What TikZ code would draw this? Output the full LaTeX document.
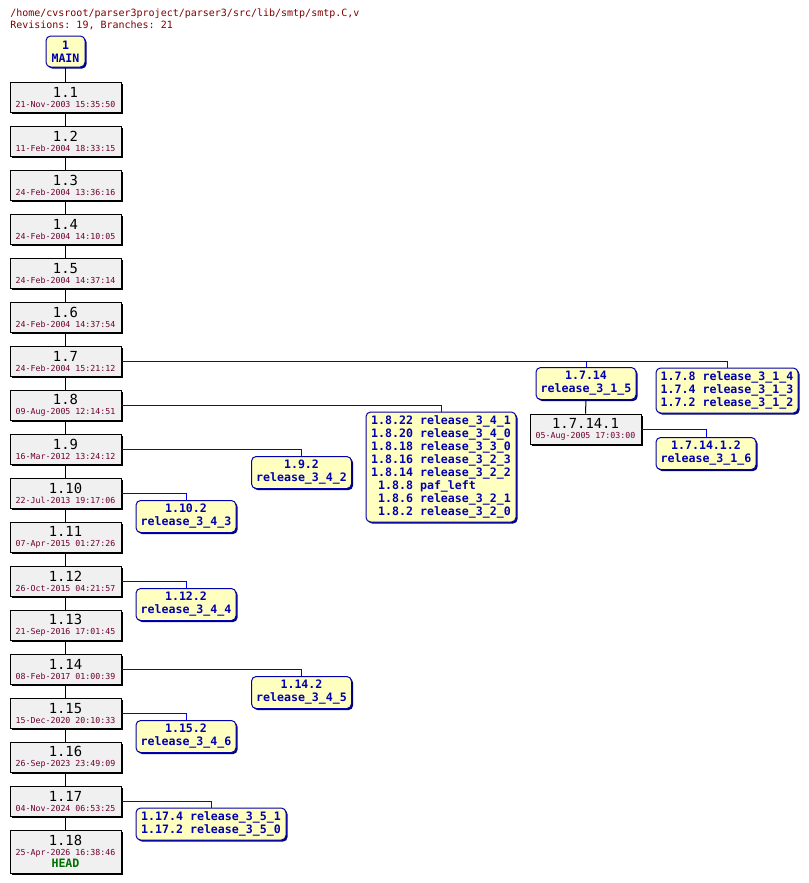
\documentclass[tikz,border=0pt]{standalone}
\usepackage{fontspec}
\setmonofont{DejaVu Sans Mono}
\usepackage{tikz}
\usetikzlibrary{shadows}

\definecolor{revfill}{HTML}{F0F0F0}
\definecolor{tagfill}{HTML}{FFFFC0}
\definecolor{tagblue}{HTML}{0000B0}
\definecolor{linkblue}{HTML}{0000FF}
\definecolor{datered}{HTML}{700030}
\definecolor{titlered}{HTML}{800000}
\definecolor{headgreen}{HTML}{007000}

\newcommand{\revnum}{\fontsize{10.4}{10.4}\selectfont}
\newcommand{\revdate}{\fontsize{6.2}{7.5}\selectfont\color{datered}}
\newcommand{\headtag}{\fontsize{8.7}{9.75}\selectfont\bfseries\color{headgreen}}

\begin{document}
\begin{tikzpicture}[x=0.75pt,y=0.75pt,yscale=-1,xscale=1,
    rev/.style={draw=black, fill=revfill, line width=0.75pt, minimum width=83.25pt, minimum height=22.5pt,
        inner sep=0pt, align=center, font=\ttfamily\fontsize{6.2}{7.5}\selectfont,
        drop shadow={shadow xshift=1.2pt, shadow yshift=-1.2pt, opacity=1, fill=black}},
    tag/.style={draw=tagblue, fill=tagfill, line width=0.75pt, rounded corners=3.5pt, minimum width=75pt, minimum height=24pt,
        inner sep=0pt, align=center, text=tagblue, font=\ttfamily\bfseries\fontsize{8.7}{9.75}\selectfont,
        drop shadow={shadow xshift=1.2pt, shadow yshift=-1.2pt, opacity=1, fill=tagblue!70!black}},
    trunk/.style={draw=black, line width=0.75pt},
    branch/.style={draw=linkblue, line width=0.75pt}]
    \useasboundingbox (0,0) rectangle (808,883);

    % Text Node
    \node [anchor=base west, inner sep=0pt, text=titlered, font=\ttfamily\fontsize{7.5}{9}\selectfont] (title) at (10,16) {/home/cvsroot/parser3project/parser3/src/lib/smtp/smtp.C,v};
    % Text Node
    \node [anchor=base west, inner sep=0pt, text=titlered, font=\ttfamily\fontsize{7.5}{9}\selectfont] (stats) at (10,28.5) {Revisions: 19, Branches: 21};

    %Shape: Main branch
    \node [tag, minimum width=29.25pt, minimum height=23.25pt] (main) at (65.5,51.5) {1\\MAIN};

    %Shape: Revisions on the trunk
    \node [rev] (r1) at (65.5,97) {{\revnum 1.1}\\{\revdate 21-Nov-2003 15:35:50}};
    \node [rev] (r2) at (65.5,141) {{\revnum 1.2}\\{\revdate 11-Feb-2004 18:33:15}};
    \node [rev] (r3) at (65.5,185) {{\revnum 1.3}\\{\revdate 24-Feb-2004 13:36:16}};
    \node [rev] (r4) at (65.5,229) {{\revnum 1.4}\\{\revdate 24-Feb-2004 14:10:05}};
    \node [rev] (r5) at (65.5,273) {{\revnum 1.5}\\{\revdate 24-Feb-2004 14:37:14}};
    \node [rev] (r6) at (65.5,317) {{\revnum 1.6}\\{\revdate 24-Feb-2004 14:37:54}};
    \node [rev] (r7) at (65.5,361) {{\revnum 1.7}\\{\revdate 24-Feb-2004 15:21:12}};
    \node [rev] (r8) at (65.5,405) {{\revnum 1.8}\\{\revdate 09-Aug-2005 12:14:51}};
    \node [rev] (r9) at (65.5,449) {{\revnum 1.9}\\{\revdate 16-Mar-2012 13:24:12}};
    \node [rev] (r10) at (65.5,493) {{\revnum 1.10}\\{\revdate 22-Jul-2013 19:17:06}};
    \node [rev] (r11) at (65.5,537) {{\revnum 1.11}\\{\revdate 07-Apr-2015 01:27:26}};
    \node [rev] (r12) at (65.5,581) {{\revnum 1.12}\\{\revdate 26-Oct-2015 04:21:57}};
    \node [rev] (r13) at (65.5,625) {{\revnum 1.13}\\{\revdate 21-Sep-2016 17:01:45}};
    \node [rev] (r14) at (65.5,669) {{\revnum 1.14}\\{\revdate 08-Feb-2017 01:00:39}};
    \node [rev] (r15) at (65.5,713) {{\revnum 1.15}\\{\revdate 15-Dec-2020 20:10:33}};
    \node [rev] (r16) at (65.5,757) {{\revnum 1.16}\\{\revdate 26-Sep-2023 23:49:09}};
    \node [rev] (r17) at (65.5,801) {{\revnum 1.17}\\{\revdate 04-Nov-2024 06:53:25}};
    \node [rev, minimum height=32.25pt] (r18) at (65.5,851.5) {{\revnum 1.18}\\{\revdate 25-Apr-2026 16:38:46}\\{\headtag HEAD}};

    %Shape: Branches off 1.7
    \node [tag] (b714) at (586,383.5) {1.7.14\\release\_3\_1\_5};
    \node [rev] (r7141) at (585.5,429) {{\revnum 1.7.14.1}\\{\revdate 05-Aug-2005 17:03:00}};
    \node [tag] (b71412) at (706,453.5) {1.7.14.1.2\\release\_3\_1\_6};
    \node [tag, minimum width=106.5pt, minimum height=33.75pt] (b78) at (727,390.5) {1.7.8 release\_3\_1\_4\\1.7.4 release\_3\_1\_3\\1.7.2 release\_3\_1\_2};

    %Shape: Branch tags off 1.8
    \node [tag, minimum width=112.5pt, minimum height=82.5pt] (b8) at (441,467) {\begin{tabular}{@{}r@{\ }l@{}}
        1.8.22 & release\_3\_4\_1\\
        1.8.20 & release\_3\_4\_0\\
        1.8.18 & release\_3\_3\_0\\
        1.8.16 & release\_3\_2\_3\\
        1.8.14 & release\_3\_2\_2\\
        1.8.8 & paf\_left\\
        1.8.6 & release\_3\_2\_1\\
        1.8.2 & release\_3\_2\_0
    \end{tabular}};

    %Shape: Later branches
    \node [tag] (b92) at (301.5,472.5) {1.9.2\\release\_3\_4\_2};
    \node [tag] (b102) at (186,516.5) {1.10.2\\release\_3\_4\_3};
    \node [tag] (b122) at (186,604.5) {1.12.2\\release\_3\_4\_4};
    \node [tag] (b142) at (301.5,692.5) {1.14.2\\release\_3\_4\_5};
    \node [tag] (b152) at (186,736.5) {1.15.2\\release\_3\_4\_6};
    \node [tag, minimum width=112.5pt] (b174) at (211,824) {1.17.4 release\_3\_5\_1\\1.17.2 release\_3\_5\_0};

    %Straight Lines: trunk
    \draw [trunk] (main) -- (r1);
    \draw [trunk] (r1) -- (r2);
    \draw [trunk] (r2) -- (r3);
    \draw [trunk] (r3) -- (r4);
    \draw [trunk] (r4) -- (r5);
    \draw [trunk] (r5) -- (r6);
    \draw [trunk] (r6) -- (r7);
    \draw [trunk] (r7) -- (r8);
    \draw [trunk] (r8) -- (r9);
    \draw [trunk] (r9) -- (r10);
    \draw [trunk] (r10) -- (r11);
    \draw [trunk] (r11) -- (r12);
    \draw [trunk] (r12) -- (r13);
    \draw [trunk] (r13) -- (r14);
    \draw [trunk] (r14) -- (r15);
    \draw [trunk] (r15) -- (r16);
    \draw [trunk] (r16) -- (r17);
    \draw [trunk] (r17) -- (r18);
    \draw [trunk] (b714) -- (r7141);

    %Straight Lines: branch points
    \draw [branch] (r7.east) -| (b714.north);
    \draw [branch] (r7.east) -| (b78.north);
    \draw [branch] (r7141.east) -| (b71412.north);
    \draw [branch] (r8.east) -| (b8.north);
    \draw [branch] (r9.east) -| (b92.north);
    \draw [branch] (r10.east) -| (b102.north);
    \draw [branch] (r12.east) -| (b122.north);
    \draw [branch] (r14.east) -| (b142.north);
    \draw [branch] (r15.east) -| (b152.north);
    \draw [branch] (r17.east) -| (b174.north);

\end{tikzpicture}
\end{document}
